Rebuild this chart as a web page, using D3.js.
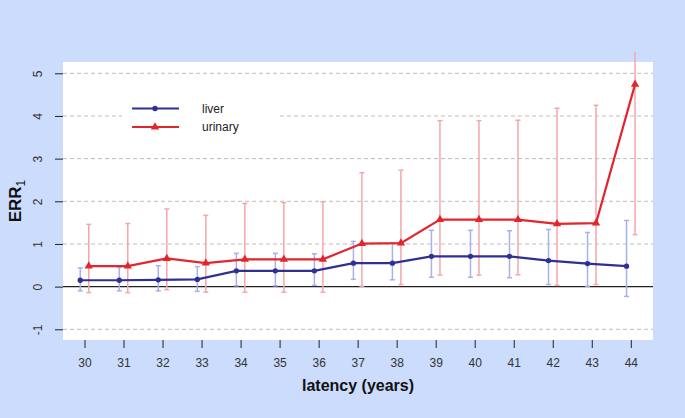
<!DOCTYPE html>
<html lang="en">
<head>
<meta charset="UTF-8">
<script src="https://d3js.org/d3.v7.min.js"></script>
<title>ERR1 by latency</title>
<style>
  body { margin: 0; background: #ccdcfc; }
  text { font-family: "Liberation Sans", Arial, sans-serif; }
</style>
</head>
<body>
<script>
// values
var latency   = [30,31,32,33,34,35,36,37,38,39,40,41,42,43,44];
var liver     = [0.15,0.15,0.16,0.17,0.37,0.37,0.37,0.55,0.55,0.71,0.71,0.71,0.61,0.54,0.48];
var liverLo   = [-0.10,-0.10,-0.10,-0.11,0.02,0.02,0.03,0.17,0.16,0.22,0.22,0.21,0.05,0.01,-0.23];
var liverHi   = [0.44,0.45,0.49,0.47,0.78,0.78,0.77,1.06,1.03,1.32,1.32,1.31,1.34,1.27,1.55];
var urinary   = [0.48,0.48,0.66,0.55,0.64,0.64,0.64,1.01,1.02,1.57,1.57,1.57,1.47,1.49,4.74];
var urinaryLo = [-0.14,-0.14,-0.07,-0.13,-0.13,-0.13,-0.13,0.01,0.05,0.27,0.27,0.28,0.03,0.05,1.22];
var urinaryHi = [1.46,1.48,1.82,1.67,1.95,1.97,1.99,2.67,2.73,3.89,3.89,3.90,4.18,4.25,5.6];
var yTicks    = [-1,0,1,2,3,4,5];

var width = 685, height = 418;
var svg = d3.select("body").append("svg").attr("width", width).attr("height", height);

svg.append("rect").attr("width", width).attr("height", height).attr("fill", "#ccdcfc");

var x = d3.scalePoint().domain(latency).range([84.5, 630.8]);
var y = d3.scaleLinear().domain([-1, 5]).range([329.3, 73.3]);
var off = 4.25;

// white plot panel
svg.append("rect").attr("x", 63).attr("y", 62).attr("width", 590).attr("height", 278).attr("fill", "#fff");

// dashed grid
svg.selectAll(".grid").data(yTicks.filter(function(d){ return d != 0; })).enter()
  .append("line").attr("class", "grid")
  .attr("x1", 63).attr("x2", 653)
  .attr("y1", function(d){ return y(d); }).attr("y2", function(d){ return y(d); })
  .attr("stroke", "#bdbdbd").attr("stroke-width", 1).attr("stroke-dasharray", "4,3");

svg.append("line").attr("x1", 63).attr("x2", 653).attr("y1", y(0)).attr("y2", y(0))
  .attr("stroke", "#222").attr("stroke-width", 1.2);

// y axis: ticks only, labels rotated
var yAxis = svg.append("g").attr("transform", "translate(63,0)")
  .call(d3.axisLeft(y).tickValues(yTicks).tickFormat(function(d){ return String(d); }).tickSize(8).tickPadding(17));
yAxis.select(".domain").remove();
yAxis.selectAll("line").attr("stroke", "#222");
yAxis.selectAll("text")
  .attr("font-size", 12).attr("fill", "#333")
  .attr("transform", "rotate(-90,-25,0)")
  .attr("text-anchor", "middle").attr("dy", "0.32em");

// x axis
var xAxis = svg.append("g").attr("transform", "translate(0,340)")
  .call(d3.axisBottom(x).tickSize(8).tickPadding(10));
xAxis.select(".domain").remove();
xAxis.selectAll("line").attr("stroke", "#222");
xAxis.selectAll("text").attr("font-size", 12).attr("fill", "#333");

// axis titles
svg.append("text").attr("x", 358).attr("y", 391).attr("text-anchor", "middle")
  .attr("font-size", 16).attr("font-weight", "bold").attr("fill", "#111").text("latency (years)");
var yt = svg.append("text").attr("transform", "translate(21,201) rotate(-90)")
  .attr("text-anchor", "middle").attr("font-size", 17).attr("font-weight", "bold").attr("fill", "#111");
yt.append("tspan").text("ERR");
yt.append("tspan").attr("dy", 4).attr("font-size", 12).attr("font-weight", "normal").text("1");

// clip so the tall bar stops near the top
svg.append("clipPath").attr("id", "clip").append("rect").attr("x", 0).attr("y", 52).attr("width", width).attr("height", 300);

var series = [
  {name: "liver", v: liver, lo: liverLo, hi: liverHi, dx: -off, col: "#2e3192", err: "#a9b0ea", shape: d3.symbolCircle, size: 22},
  {name: "urinary", v: urinary, lo: urinaryLo, hi: urinaryHi, dx: off, col: "#e3262d", err: "#f4a7aa", shape: d3.symbolTriangle, size: 30}
];

var plot = svg.append("g").attr("clip-path", "url(#clip)");

// error bars
series.forEach(function(s){
  var g = plot.append("g").attr("stroke", s.err).attr("stroke-width", 1.5).attr("fill", "none");
  latency.forEach(function(l, i){
    var cx = x(l) + s.dx;
    g.append("line").attr("x1", cx).attr("x2", cx).attr("y1", y(s.lo[i])).attr("y2", y(s.hi[i]));
    g.append("line").attr("x1", cx - 2.5).attr("x2", cx + 2.5).attr("y1", y(s.lo[i])).attr("y2", y(s.lo[i]));
    g.append("line").attr("x1", cx - 2.5).attr("x2", cx + 2.5).attr("y1", y(s.hi[i])).attr("y2", y(s.hi[i]));
  });
});

// lines and points
series.forEach(function(s){
  var line = d3.line().x(function(d, i){ return x(latency[i]) + s.dx; }).y(function(d){ return y(d); });
  plot.append("path").datum(s.v).attr("d", line).attr("fill", "none").attr("stroke", s.col).attr("stroke-width", 2.2);
  plot.selectAll(".pt-" + s.name).data(s.v).enter().append("path")
    .attr("transform", function(d, i){ return "translate(" + (x(latency[i]) + s.dx) + "," + y(d) + ")"; })
    .attr("d", d3.symbol().type(s.shape).size(s.size)).attr("fill", s.col);
});

// legend
var lg = svg.append("g");
lg.append("rect").attr("x", 122).attr("y", 93).attr("width", 158).attr("height", 48).attr("fill", "#fff");
series.forEach(function(s, i){
  var ly = 108.5 + i * 18.5;
  lg.append("line").attr("x1", 132).attr("x2", 179).attr("y1", ly).attr("y2", ly).attr("stroke", s.col).attr("stroke-width", 2);
  lg.append("path").attr("transform", "translate(155," + ly + ")").attr("d", d3.symbol().type(s.shape).size(s.size)).attr("fill", s.col);
  lg.append("text").attr("x", 202).attr("y", ly).attr("dy", "0.35em").attr("font-size", 12).attr("fill", "#222").text(s.name);
});
</script>
</body>
</html>
